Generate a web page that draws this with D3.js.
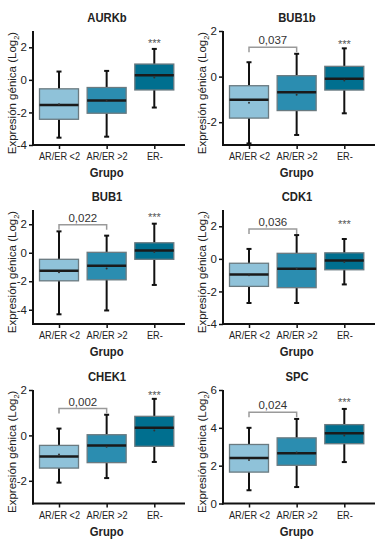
<!DOCTYPE html>
<html lang="es"><head><meta charset="UTF-8">
<script src="https://d3js.org/d3.v7.min.js"></script>
<style>
  body { margin: 0; background: #fff; }
  svg text { font-family: "Liberation Sans", Arial, sans-serif; }
</style>
</head>
<body>
<div id="grafico"></div>
<script>
// datos (log2)
var grupos = ["AR/ER <2", "AR/ER >2", "ER-"];
var genes = ["AURKb", "BUB1b", "BUB1", "CDK1", "CHEK1", "SPC"];
var bigoteInf = [[-3.55, -3.49, -1.7], [-2.93, -2.56, -1.61], [-4.32, -4.05, -2.26], [-2.71, -2.71, -1.57], [-2.08, -1.88, -1.17], [0.7, 0.87, 2.19]];
var q1 = [[-2.42, -2.05, -0.62], [-1.82, -1.49, -0.59], [-1.97, -1.9, -0.46], [-1.69, -1.77, -0.67], [-1.44, -1.2, -0.48], [1.66, 2.02, 3.16]];
var mediana = [[-1.54, -1.27, 0.29], [-1.01, -0.69, -0.09], [-1.27, -0.92, 0.16], [-0.96, -0.61, -0.1], [-0.93, -0.44, 0.34], [2.4, 2.66, 3.72]];
var q3 = [[-0.55, -0.47, 0.97], [-0.4, 0.04, 0.45], [-0.46, 0.03, 0.7], [-0.27, 0.34, 0.37], [-0.44, 0.03, 0.84], [3.12, 3.47, 4.17]];
var bigoteSup = [[0.51, 0.55, 1.9], [0.63, 1.0, 1.24], [1.5, 1.2, 2.04], [0.61, 1.46, 1.22], [0.3, 0.91, 1.61], [4.0, 4.47, 5.0]];
var media = [[-1.5, -1.3, 0.15], [-1.15, -0.8, -0.17], [-1.36, -1.1, 0.05], [-1.0, -0.6, -0.2], [-0.84, -0.5, 0.22], [2.3, 2.7, 3.6]];
var pValor = [null, "0,037", "0,022", "0,036", "0,002", "0,024"];
var corcheteY = [null, 1.29, 1.97, 1.83, 1.18, 4.82];
var asteriscosY = [2.3, 1.48, 2.55, 2.23, 1.84, 5.44];
var dominioY = [[-4, 3], [-3, 2], [-5, 3], [-4, 3], [-3, 2], [0, 6]];
var ticksY = [[-4, -2, 0, 2], [-2, 0, 2], [-4, -2, 0, 2], [-4, -2, 0, 2], [-2, 0, 2], [0, 2, 4, 6]];
var colores = ["#8fc2d9", "#2b8db0", "#006f8f"];

var W = 385, H = 545;
var svg = d3.select("#grafico").append("svg")
    .attr("width", W).attr("height", H);

// posiciones de los paneles (eje y en x0, area de datos entre top y bottom)
var colX = [33, 223];
var filas = [{top: 31, bottom: 145}, {top: 210, bottom: 324}, {top: 390, bottom: 503.5}];
var anchoEje = 152;

// la fuente original es mas estrecha: comprimir el texto horizontalmente
function estrechar(sel, factor) {
    sel.each(function() {
        var L = this.getComputedTextLength();
        d3.select(this).attr("textLength", L * factor).attr("lengthAdjust", "spacingAndGlyphs");
    });
}

function panel(i) {
    var x0 = colX[i % 2];
    var f = filas[Math.floor(i / 2)];
    var g = svg.append("g").attr("transform", "translate(" + x0 + ",0)");

    var x = d3.scalePoint().domain(grupos).range([26, 121.3]);
    var y = d3.scaleLinear().domain(dominioY[i]).range([f.bottom, f.top]);

    // titulo
    g.append("text")
        .attr("x", anchoEje / 2 - 2).attr("y", f.top - 9)
        .attr("text-anchor", "middle")
        .style("font-size", "12.5px").style("font-weight", "bold")
        .attr("fill", "#222")
        .text(genes[i])
        .call(estrechar, 0.9);

    // titulo eje y
    var ty = g.append("text")
        .attr("transform", "translate(-17," + ((f.top + f.bottom) / 2 + 5) + ") rotate(-90)")
        .attr("text-anchor", "middle")
        .style("font-size", "11.5px")
        .attr("fill", "#222");
    ty.append("tspan").text("Expresión génica (Log");
    ty.append("tspan").attr("dy", 2.5).style("font-size", "7.5px").text("2");
    ty.append("tspan").attr("dy", -2.5).text(")");

    // eje y
    var ejeY = g.append("g").call(d3.axisLeft(y).tickValues(ticksY[i])
        .tickFormat(function(d) { return String(d); }).tickSize(4).tickPadding(2));
    ejeY.select(".domain").remove();
    ejeY.selectAll(".tick line").attr("stroke", "#111").attr("stroke-width", 1.5);
    ejeY.selectAll(".tick text").style("font-size", "11.5px").style("font-family", null).attr("fill", "#222");
    g.append("line").attr("x1", 0).attr("x2", 0).attr("y1", f.top).attr("y2", f.bottom + 1)
        .attr("stroke", "#111").attr("stroke-width", 2);

    // eje x
    var ejeX = g.append("g").attr("transform", "translate(0," + f.bottom + ")")
        .call(d3.axisBottom(x).tickSize(4).tickPadding(3));
    ejeX.select(".domain").remove();
    ejeX.selectAll(".tick line").attr("stroke", "#111").attr("stroke-width", 1.5);
    ejeX.selectAll(".tick text").style("font-size", "11.5px").style("font-family", null).attr("fill", "#222")
        .call(estrechar, 0.8);
    g.append("line").attr("x1", -1).attr("x2", anchoEje).attr("y1", f.bottom).attr("y2", f.bottom)
        .attr("stroke", "#111").attr("stroke-width", 2);

    g.append("text")
        .attr("x", x(grupos[1])).attr("y", f.bottom + 32)
        .attr("text-anchor", "middle")
        .style("font-size", "12.5px").style("font-weight", "bold")
        .attr("fill", "#222")
        .text("Grupo")
        .call(estrechar, 0.9);

    var datos = grupos.map(function(gr, k) {
        return {grupo: gr, min: bigoteInf[i][k], q1: q1[i][k], med: mediana[i][k],
                q3: q3[i][k], max: bigoteSup[i][k], media: media[i][k], color: colores[k]};
    });
    var bw = 39, cap = 5;

    var cajas = g.selectAll(".caja").data(datos).enter().append("g").attr("class", "caja");
    // bigotes
    cajas.append("line")
        .attr("x1", function(d) { return x(d.grupo); }).attr("x2", function(d) { return x(d.grupo); })
        .attr("y1", function(d) { return y(d.max); }).attr("y2", function(d) { return y(d.min); })
        .attr("stroke", "#111").attr("stroke-width", 2);
    cajas.append("line")
        .attr("x1", function(d) { return x(d.grupo) - cap / 2; }).attr("x2", function(d) { return x(d.grupo) + cap / 2; })
        .attr("y1", function(d) { return y(d.max); }).attr("y2", function(d) { return y(d.max); })
        .attr("stroke", "#111").attr("stroke-width", 2);
    cajas.append("line")
        .attr("x1", function(d) { return x(d.grupo) - cap / 2; }).attr("x2", function(d) { return x(d.grupo) + cap / 2; })
        .attr("y1", function(d) { return y(d.min); }).attr("y2", function(d) { return y(d.min); })
        .attr("stroke", "#111").attr("stroke-width", 2);
    // caja
    cajas.append("rect")
        .attr("x", function(d) { return x(d.grupo) - bw / 2; })
        .attr("width", bw)
        .attr("y", function(d) { return y(d.q3); })
        .attr("height", function(d) { return y(d.q1) - y(d.q3); })
        .attr("fill", function(d) { return d.color; })
        .attr("stroke", "#6a7a80").attr("stroke-width", 1.3);
    // mediana
    cajas.append("line")
        .attr("x1", function(d) { return x(d.grupo) - bw / 2; }).attr("x2", function(d) { return x(d.grupo) + bw / 2; })
        .attr("y1", function(d) { return y(d.med); }).attr("y2", function(d) { return y(d.med); })
        .attr("stroke", "#1a1a1a").attr("stroke-width", 2.5);
    // media
    cajas.append("circle")
        .attr("cx", function(d) { return x(d.grupo); })
        .attr("cy", function(d) { return y(d.media); })
        .attr("r", 1).attr("fill", "#333");

    // significacion ER-
    g.append("text")
        .attr("x", x(grupos[2])).attr("y", y(asteriscosY[i]) + 5)
        .attr("text-anchor", "middle")
        .style("font-size", "11px").attr("fill", "#555")
        .text("***");

    if (pValor[i]) {
        var yc = y(corcheteY[i]);
        var xa = x(grupos[0]), xb = x(grupos[1]);
        g.append("path")
            .attr("d", "M" + xa + "," + (yc + 5) + "V" + yc + "H" + xb + "V" + (yc + 5))
            .attr("fill", "none").attr("stroke", "#9a9a9a").attr("stroke-width", 1.5);
        g.append("text")
            .attr("x", (xa + xb) / 2).attr("y", yc - 3)
            .attr("text-anchor", "middle")
            .style("font-size", "11.5px").attr("fill", "#333")
            .text(pValor[i]);
    }
}

genes.forEach(function(gen, i) { panel(i); });
</script>
</body>
</html>
